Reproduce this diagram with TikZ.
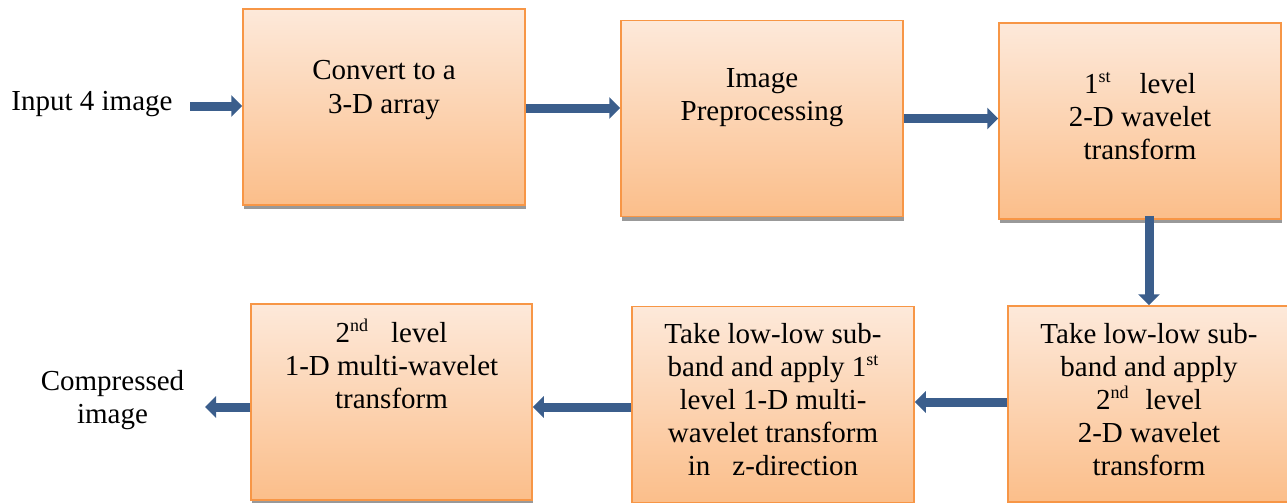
\documentclass[tikz,border=0pt]{standalone}
\usepackage{fontspec}
\setmainfont{LiberationSerif}[Extension=.ttf, UprightFont=*-Regular, BoldFont=*-Bold, ItalicFont=*-Italic]
\usetikzlibrary{arrows.meta,shadows}

\definecolor{boxtop}{RGB}{253,233,218}
\definecolor{boxbot}{RGB}{251,190,138}
\definecolor{boxline}{RGB}{247,150,70}
\definecolor{arrowblue}{RGB}{59,94,140}

% centred block text, first baseline at the node's base anchor
\newcommand{\blocklines}[2][280pt]{\parbox[t]{#1}{\centering\fontsize{29}{33}\selectfont #2}}
\newcommand{\sups}[1]{\raisebox{11pt}{\fontsize{18}{18}\selectfont #1}}

\begin{document}
\begin{tikzpicture}[x=1pt,y=-1pt,
  block/.style={draw=boxline, line width=1.5pt, top color=boxtop, bottom color=boxbot,
    minimum width=282pt, minimum height=196pt, inner sep=0pt,
    drop shadow={shadow xshift=1pt, shadow yshift=-4pt, fill=black!40, opacity=1}},
  blocktext/.style={anchor=base, inner sep=0pt},
  flow/.style={color=arrowblue, line width=9pt, -{Triangle[width=21pt,length=11pt]}}
]
\useasboundingbox (0,0) rectangle (1287,503);

% process blocks
\node[block] (b1) at (384,107) {};
\node[block] (b2) at (762,118.5) {};
\node[block] (b3) at (1140,121) {};
\node[block] (b4) at (1149,404) {};
\node[block] (b5) at (773,404.5) {};
\node[block, minimum width=281pt] (b6) at (391.5,402) {};

% block captions
\node[blocktext] (t1) at (384,80) {\blocklines{Convert to a\\3-D array}};
\node[blocktext] (t2) at (762,87) {\blocklines{Image\\Preprocessing}};
\node[blocktext] (t3) at (1140,93) {\blocklines{1\sups{st}\hspace{29pt}level\\2-D wavelet\\transform}};
\node[blocktext] (t4) at (1149,343) {\blocklines{Take low-low sub-\\band and apply\\2\sups{nd}\hspace{17pt}level\\2-D wavelet\\transform}};
\node[blocktext] (t5) at (773,343) {\blocklines{Take low-low sub-\\band and apply 1\sups{st}\\level 1-D multi-\\wavelet transform\\in\hspace{22pt}z-direction}};
\node[blocktext] (t6) at (391.5,342) {\blocklines{2\sups{nd}\hspace{23pt}level\\1-D multi-wavelet\\transform}};

% input and output labels
\node[blocktext, font=\fontsize{29}{33}\selectfont] (in) at (92,110) {Input 4 image};
\node[blocktext] (out) at (112.5,390) {\blocklines[170pt]{Compressed\\image}};

% connectors
\coordinate (inA) at (190,106);
\coordinate (outA) at (205,407);
\draw[flow] (inA) -- (inA -| b1.west);
\draw[flow] ([yshift=-1pt]b1.east) -- ([yshift=-1pt]b1.east -| b2.west);
\draw[flow] (b2.east) -- (b2.east -| b3.west);
\draw[flow] ([yshift=4pt]b3.south -| b4.north) -- (b4.north);
\draw[flow] ([yshift=2pt]b4.west) -- ([yshift=2pt]b4.west -| b5.east);
\draw[flow] ([yshift=-2.5pt]b5.west) -- ([yshift=-2.5pt]b5.west -| b6.east);
\draw[flow] (b6.west |- outA) -- (outA);
\end{tikzpicture}
\end{document}
